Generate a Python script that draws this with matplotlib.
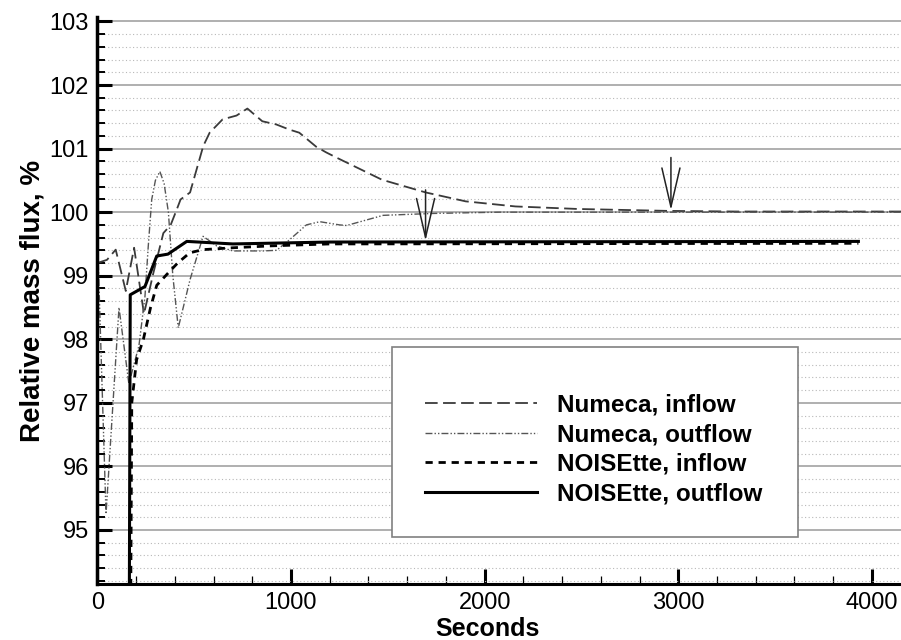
import matplotlib
matplotlib.use("Agg")
import matplotlib.pyplot as plt
from matplotlib.patches import Rectangle
from matplotlib.ticker import MultipleLocator

plt.rcParams["font.family"] = ["Liberation Sans", "DejaVu Sans"]

# Numeca, inflow
numeca_in_t = [0, 50, 95, 147, 190, 241, 290, 341, 379, 410, 430, 479, 547,
               580, 647, 719, 775, 852, 924, 991, 1043, 1130, 1182, 1234,
               1470, 1696, 1902, 2159, 2483, 2946, 3300, 4150]
numeca_in_v = [99.2, 99.25, 99.41, 98.76, 99.44, 98.4, 99.05, 99.67, 99.8,
               100.04, 100.2, 100.31, 101.04, 101.25, 101.46, 101.52, 101.63,
               101.43, 101.38, 101.3, 101.25, 101.03, 100.94, 100.86, 100.51,
               100.31, 100.17, 100.09, 100.05, 100.02, 100.01, 100.01]

# Numeca, outflow
numeca_out_t = [0, 45, 112, 163, 215, 246, 263, 281, 300, 323, 345, 367, 390,
                418, 479, 546, 616, 700, 855, 926, 994, 1080, 1149, 1250, 1287,
                1476, 1735, 2080, 4150]
numeca_out_v = [99.7, 95.25, 98.5, 97.3, 97.9, 98.67, 99.46, 100.2, 100.5,
                100.64, 100.45, 100.0, 99.0, 98.18, 98.94, 99.62, 99.47, 99.39,
                99.39, 99.4, 99.57, 99.8, 99.85, 99.8, 99.79, 99.95, 99.98,
                100.0, 100.0]

# NOISEtte, inflow
noise_in_t = [172, 178, 203, 238, 275, 307, 374, 415, 477, 544, 700, 900,
              1200, 3930]
noise_in_v = [93.5, 97.0, 97.68, 98.0, 98.5, 98.85, 99.07, 99.2, 99.36, 99.41,
              99.44, 99.47, 99.5, 99.51]

# NOISEtte, outflow
noise_out_t = [165, 170, 246, 307, 365, 462, 700, 1200, 3930]
noise_out_v = [93.5, 98.7, 98.83, 99.31, 99.34, 99.54, 99.5, 99.53, 99.54]

# arrows marking the converged state
arrow_t = [1695, 2962]
arrow_top = [100.35, 100.86]
arrow_tip = [99.55, 100.03]

fig = plt.figure(figsize=(9.01, 6.40), dpi=100)
ax = fig.add_axes([0.108, 0.0875, 0.892, 0.8859])

ax.set_xlim(0, 4150)
ax.set_ylim(94.15, 103.07)

ax.grid(which="major", axis="y", color="#9a9a9a", lw=1.1, ls="-")
ax.grid(which="minor", axis="y", color="#b8b8b8", lw=0.8, ls=(0, (1, 2.2)))
ax.grid(which="both", axis="x", visible=False)
ax.set_axisbelow(True)

ax.plot(numeca_in_t, numeca_in_v, color="#3a3a3a", lw=1.3,
        dashes=(7, 3), label="Numeca, inflow")
ax.plot(numeca_out_t, numeca_out_v, color="#555555", lw=1.0,
        dashes=(5, 1.5, 1, 1.5, 1, 1.5), label="Numeca, outflow")
ax.plot(noise_in_t, noise_in_v, color="black", lw=2.0,
        dashes=(2.6, 2.1), label="NOISEtte, inflow")
ax.plot(noise_out_t, noise_out_v, color="black", lw=2.2,
        label="NOISEtte, outflow")

for t, top, tip in zip(arrow_t, arrow_top, arrow_tip):
    ax.annotate("", xy=(t, tip), xytext=(t, top),
                arrowprops=dict(arrowstyle="->,head_length=28,head_width=6.5",
                                mutation_scale=1, lw=1.1, color="#222222",
                                shrinkA=0, shrinkB=0))

ax.xaxis.set_major_locator(MultipleLocator(1000))
ax.xaxis.set_minor_locator(MultipleLocator(200))
ax.yaxis.set_major_locator(MultipleLocator(1))
ax.yaxis.set_minor_locator(MultipleLocator(0.2))

ax.tick_params(which="both", direction="in", top=False, right=False,
               labelsize=17, color="black")
ax.tick_params(axis="y", which="major", length=10.8, width=2.2, pad=6)
ax.tick_params(axis="y", which="minor", length=5.8, width=1.4)
ax.tick_params(axis="x", which="major", length=10.8, width=2.2, pad=6)
ax.tick_params(axis="x", which="minor", length=5.8, width=0.9)

for side in ("top", "right"):
    ax.spines[side].set_visible(False)
ax.spines["left"].set_linewidth(2.5)
ax.spines["bottom"].set_linewidth(2.2)

ax.set_xlabel("Seconds", fontsize=18, fontweight="bold", va="center")
ax.xaxis.set_label_coords(0.486, -0.079)
ax.set_ylabel("Relative mass flux, %", fontsize=20, fontweight="bold",
              va="center")
ax.yaxis.set_label_coords(-0.0812, 0.5)

# legend frame and entries
ax.add_patch(Rectangle((0.3663, 0.0834), 0.5059, 0.3341, transform=ax.transAxes,
                       facecolor="white", edgecolor="#808080", lw=1.2,
                       zorder=5))
leg = ax.legend(loc="center left", bbox_to_anchor=(0.4077, 0.237),
                frameon=False, prop={"size": 17.5, "weight": "bold"},
                handlelength=4.6, handletextpad=0.83, labelspacing=0.27,
                borderpad=0, borderaxespad=0)
leg.set_zorder(6)

fig.savefig("out.png", dpi=100)
